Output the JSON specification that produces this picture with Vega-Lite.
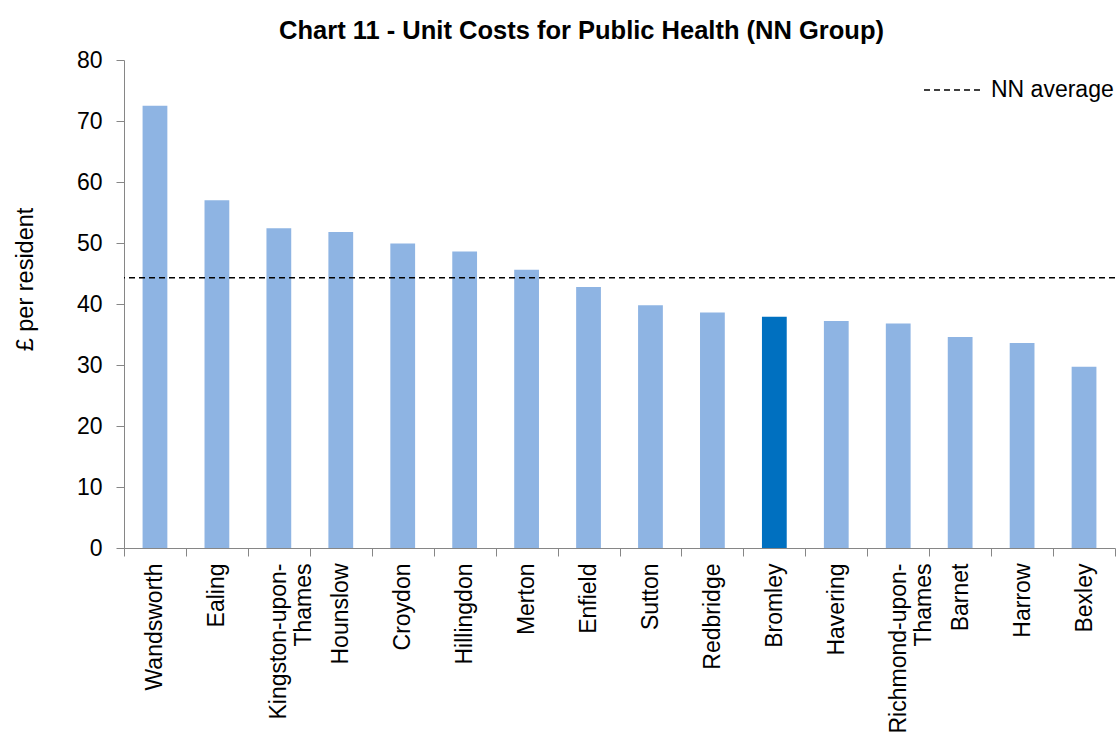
{
  "$schema": "https://vega.github.io/schema/vega-lite/v6.json",
  "autosize": {"type": "none"},
  "padding": {"left": 124, "top": 60, "right": 1, "bottom": 185},
  "width": 991,
  "height": 488,
  "background": "white",
  "title": {
    "text": "Chart 11 - Unit Costs for Public Health (NN Group)",
    "font": "Liberation Sans",
    "fontSize": 25.5,
    "fontWeight": "bold",
    "color": "#000000",
    "anchor": "middle",
    "frame": "group",
    "dx": -38,
    "offset": 5
  },
  "config": {
    "view": {"stroke": null},
    "font": "Liberation Sans",
    "axis": {
      "labelFont": "Liberation Sans",
      "titleFont": "Liberation Sans",
      "labelColor": "#000000",
      "titleColor": "#000000",
      "domainColor": "#868686",
      "tickColor": "#868686",
      "grid": false
    }
  },
  "datasets": {
    "costs": [
      {"borough": "Wandsworth", "cost": 72.5},
      {"borough": "Ealing", "cost": 57.0},
      {"borough": "Kingston-upon-Thames", "cost": 52.4},
      {"borough": "Hounslow", "cost": 51.8},
      {"borough": "Croydon", "cost": 49.9},
      {"borough": "Hillingdon", "cost": 48.6},
      {"borough": "Merton", "cost": 45.6},
      {"borough": "Enfield", "cost": 42.8},
      {"borough": "Sutton", "cost": 39.8},
      {"borough": "Redbridge", "cost": 38.6},
      {"borough": "Bromley", "cost": 37.9},
      {"borough": "Havering", "cost": 37.2},
      {"borough": "Richmond-upon-Thames", "cost": 36.8},
      {"borough": "Barnet", "cost": 34.6},
      {"borough": "Harrow", "cost": 33.6},
      {"borough": "Bexley", "cost": 29.7}
    ],
    "average": [
      {"series": "NN average", "avg": 44.3}
    ]
  },
  "layer": [
    {
      "data": {"name": "costs"},
      "mark": {"type": "bar", "width": {"band": 0.4}},
      "encoding": {
        "x": {
          "field": "borough",
          "type": "nominal",
          "sort": null,
          "scale": {"paddingInner": 0, "paddingOuter": 0},
          "axis": {
            "title": null,
            "labelAngle": -90,
            "labelFontSize": 23,
            "labelPadding": 7,
            "labelLineHeight": 25,
            "tickSize": 8,
            "tickBand": "extent",
            "domainWidth": 1,
            "labelExpr": "datum.value == 'Kingston-upon-Thames' ? ['Kingston-upon-', 'Thames'] : datum.value == 'Richmond-upon-Thames' ? ['Richmond-upon-', 'Thames'] : datum.value"
          }
        },
        "y": {
          "field": "cost",
          "type": "quantitative",
          "scale": {"domain": [0, 80], "nice": false},
          "axis": {
            "title": "£ per resident",
            "titleFontSize": 23.5,
            "titleFontWeight": "normal",
            "titleAngle": -90,
            "titleX": -99,
            "titleY": 219,
            "titleAlign": "center",
            "titleBaseline": "middle",
            "values": [0, 10, 20, 30, 40, 50, 60, 70, 80],
            "labelFontSize": 23,
            "labelPadding": 14,
            "tickSize": 8,
            "domainWidth": 1
          }
        },
        "color": {
          "condition": {"test": "datum.borough === 'Bromley'", "value": "#0070C0"},
          "value": "#8EB4E3"
        }
      }
    },
    {
      "data": {"name": "average"},
      "mark": {"type": "rule", "color": "#000000", "strokeWidth": 1.5},
      "encoding": {
        "y": {"field": "avg", "type": "quantitative"},
        "strokeDash": {
          "field": "series",
          "type": "nominal",
          "scale": {"range": [[6, 4]]},
          "legend": {
            "title": null,
            "orient": "none",
            "legendX": 799,
            "legendY": -1,
            "symbolType": "stroke",
            "symbolSize": 3600,
            "symbolStrokeWidth": 1.5,
            "symbolStrokeColor": "#000000",
            "labelFontSize": 23,
            "labelFont": "Liberation Sans",
            "labelColor": "#000000",
            "labelOffset": 6
          }
        }
      }
    }
  ]
}
